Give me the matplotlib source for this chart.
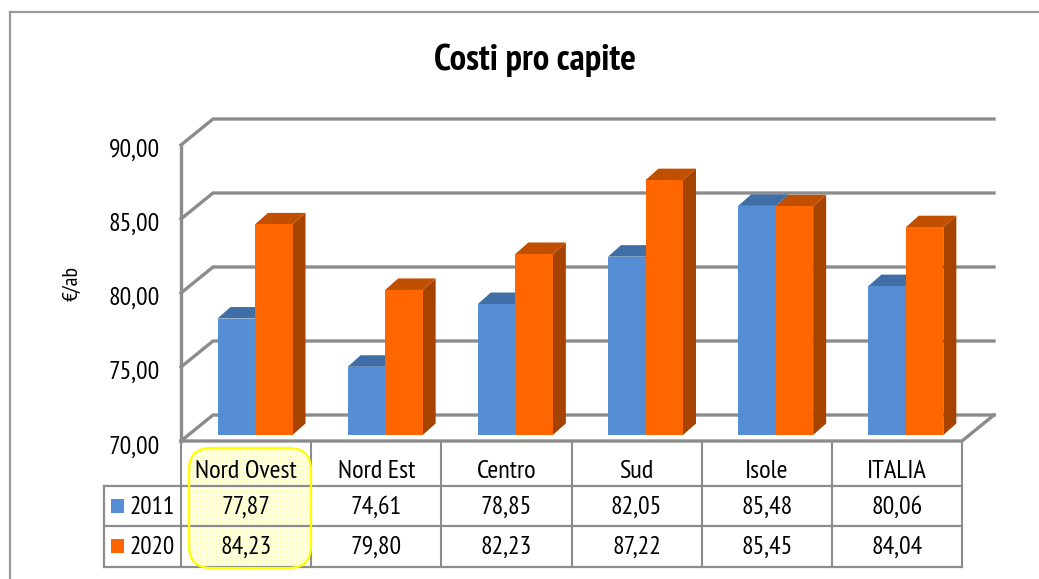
import matplotlib
matplotlib.use("Agg")
import matplotlib.pyplot as plt
from matplotlib.patches import FancyBboxPatch, Polygon

# dati
regioni = ["Nord Ovest", "Nord Est", "Centro", "Sud", "Isole", "ITALIA"]
costi_2011 = [77.87, 74.61, 78.85, 82.05, 85.48, 80.06]
costi_2020 = [84.23, 79.80, 82.23, 87.22, 85.45, 84.04]
tick_valori = [70, 75, 80, 85, 90]

W, H = 1039, 579
GRIGIO = "#8C8C8C"
BLU, BLU_TOP = "#558ED5", "#3F6FA6"
ARANCIO, ARANCIO_TOP, ARANCIO_LATO = "#FF6600", "#C04F00", "#A64300"

plt.rcParams["font.family"] = ["PT Sans Narrow", "Lato", "DejaVu Sans"]
fig = plt.figure(figsize=(W / 100, H / 100), dpi=100, facecolor="white")

# asse in pixel per cornice e tabella
pix = fig.add_axes([0, 0, 1, 1], zorder=1)
pix.set_xlim(0, W)
pix.set_ylim(H, 0)
pix.axis("off")

# asse dati per le barre
X0, X1, Y70, Y90 = 181, 962, 435, 139
ax = fig.add_axes([X0 / W, 1 - Y70 / H, (X1 - X0) / W, (Y70 - Y90) / H], zorder=2)
ax.set_xlim(0, len(regioni))
ax.set_ylim(70, 90)
ax.axis("off")
ax.patch.set_alpha(0)
px_x = (X1 - X0) / len(regioni)
px_y = (Y70 - Y90) / 20

# cornice (solo alto e sinistra)
pix.plot([10, W], [12, 12], color="#999999", lw=1.6)
pix.plot([10, 10], [12, H], color="#999999", lw=1.6)

# griglia 3D
fronte = -6 / px_y
retro = 20 / px_y
prof = 32 / px_x
for v in tick_valori:
    ax.plot([0, prof, 6 + prof], [v + fronte, v + retro, v + retro], color=GRIGIO, lw=2.4,
            clip_on=False, solid_joinstyle="miter", zorder=1)
ax.plot([0, 0], [70 + fronte, 90 + fronte], color=GRIGIO, lw=2.4, clip_on=False, zorder=1)
ax.plot([0, 6, 6 + prof], [70 + fronte, 70 + fronte, 70 + retro], color=GRIGIO, lw=2.4,
        clip_on=False, zorder=1)


def barra(x, valore, col, top, lato, z):
    w = 37.5 / px_x
    dx = 13 / px_x
    dy = 11.5 / px_y
    ax.add_patch(Polygon([(x + w, 70), (x + w + dx, 70 + dy), (x + w + dx, valore + dy), (x + w, valore)],
                         fc=lato, ec="none", clip_on=False, zorder=z))
    ax.add_patch(Polygon([(x, valore), (x + dx, valore + dy), (x + w + dx, valore + dy), (x + w, valore)],
                         fc=top, ec="none", clip_on=False, zorder=z))
    ax.bar(x, valore - 70, w, bottom=70, align="edge", color=col, clip_on=False, zorder=z + 0.1)


for i in range(len(regioni)):
    x = i + 36.5 / px_x
    barra(x, costi_2011[i], BLU, BLU_TOP, BLU_TOP, 2)
    barra(x + 37.5 / px_x, costi_2020[i], ARANCIO, ARANCIO_TOP, ARANCIO_LATO, 3)

# titolo e asse y
pix.text(535, 60, "Costi pro capite", ha="center", va="center", fontsize=26.5, fontweight="bold", color="black")
pix.text(72, 283, "€/ab", ha="center", va="center", rotation=90, fontsize=16, color="black")
for v in tick_valori:
    y = 447 - (v - 70) * 14.85
    pix.text(160, y, f"{v:.2f}".replace(".", ","), ha="right", va="center", fontsize=18.5, color="black")

# evidenziazione Nord Ovest
pix.add_patch(FancyBboxPatch((189, 448), 122, 120, boxstyle="round,pad=0,rounding_size=22",
                             fc="#FFFFB0", ec="#FFFFE8", hatch="+++++", lw=0, zorder=1))

# tabella
colonne = [181 + px_x * i for i in range(7)]
righe = [441, 486, 526, 567]
for xc in colonne:
    pix.plot([xc, xc], [righe[0], righe[-1]], color=GRIGIO, lw=1.5, zorder=2)
for yr in righe[1:]:
    pix.plot([104, 962], [yr, yr], color=GRIGIO, lw=1.6, zorder=2)
pix.plot([104, 104], [486, 567], color=GRIGIO, lw=1.6, zorder=2)
pix.add_patch(FancyBboxPatch((189, 448), 122, 120, boxstyle="round,pad=0,rounding_size=22",
                             fc="none", ec="#FFFF00", lw=1.6, zorder=3))

y_testa, y_a, y_b = 472, 507, 547
for i, nome in enumerate(regioni):
    xc = colonne[i] + px_x / 2
    pix.text(xc, y_testa, nome, ha="center", va="center", fontsize=19, color="black", zorder=4)
    pix.text(xc, y_a, f"{costi_2011[i]:.2f}".replace(".", ","), ha="center", va="center",
             fontsize=18.5, color="black", zorder=4)
    pix.text(xc, y_b, f"{costi_2020[i]:.2f}".replace(".", ","), ha="center", va="center",
             fontsize=18.5, color="black", zorder=4)

# legenda dentro la tabella
for anno, col, y in [("2011", BLU, y_a - 1), ("2020", ARANCIO, y_b - 1)]:
    pix.fill([111, 124, 124, 111], [y - 7, y - 7, y + 7, y + 7], color=col, lw=0, zorder=4)
    pix.text(130, y + 1, anno, ha="left", va="center", fontsize=18, color="black", zorder=4)

fig.savefig("out.png", dpi=100)
